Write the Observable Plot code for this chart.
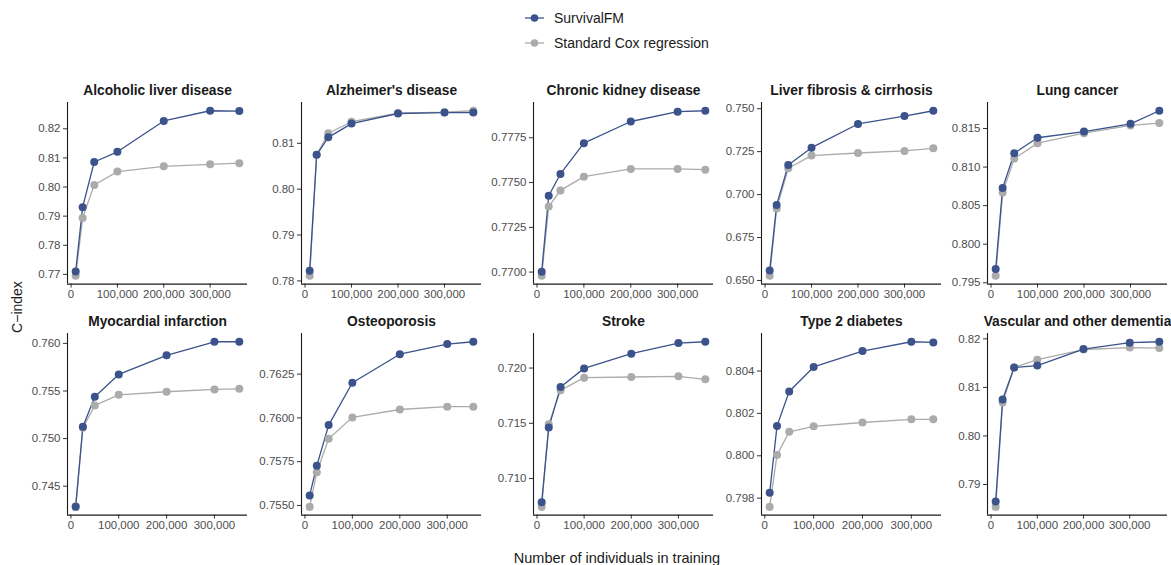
<!DOCTYPE html>
<html><head><meta charset="utf-8">
<script src="https://cdn.jsdelivr.net/npm/d3@7"></script>
<script src="https://cdn.jsdelivr.net/npm/@observablehq/plot@0.6"></script>
<style>
body{margin:0;overflow:hidden;background:#fff;font-family:"Liberation Sans",Arial,Helvetica,sans-serif;}
#root{position:relative;width:1171px;height:565px;overflow:hidden;}
.abs{position:absolute;}
.abs svg{overflow:visible;max-width:none !important;}
</style></head><body><div id="root"></div>
<script>
const diseases = ["Alcoholic liver disease","Alzheimer's disease","Chronic kidney disease","Liver fibrosis & cirrhosis","Lung cancer",
  "Myocardial infarction","Osteoporosis","Stroke","Type 2 diabetes","Vascular and other dementia"];
const trainSizes = [10000, 25000, 50000, 100000, 200000, 300000];
const fullSizes = [363000, 362000, 359000, 362000, 362000, 352000, 355000, 357000, 345000, 364000];
const seriesNames = ["SurvivalFM", "Standard Cox regression"];
const seriesColors = ["#3B528B", "#ABABAB"];

const survivalFM = [
  [0.7710, 0.7931, 0.8086, 0.8121, 0.8227, 0.8262, 0.8261],
  [0.7822, 0.8075, 0.8113, 0.8143, 0.8165, 0.8167, 0.8167],
  [0.77002, 0.77426, 0.77548, 0.77720, 0.77841, 0.77896, 0.77901],
  [0.6558, 0.6940, 0.7172, 0.7273, 0.7411, 0.7457, 0.7488],
  [0.7968, 0.8073, 0.8118, 0.8138, 0.8146, 0.8156, 0.8173],
  [0.74283, 0.75124, 0.75439, 0.75674, 0.75874, 0.76017, 0.76017],
  [0.75557, 0.75727, 0.75959, 0.76201, 0.76364, 0.76422, 0.76435],
  [0.70786, 0.71461, 0.71828, 0.71997, 0.72130, 0.72226, 0.72238],
  [0.79825, 0.80141, 0.80303, 0.80419, 0.80494, 0.80538, 0.80535],
  [0.7865, 0.8075, 0.8141, 0.8145, 0.8179, 0.8192, 0.8194]
];
const coxRegression = [
  [0.7695, 0.7894, 0.8007, 0.8053, 0.8071, 0.8078, 0.8082],
  [0.7811, 0.8075, 0.8122, 0.8147, 0.8166, 0.8168, 0.8171],
  [0.76979, 0.77366, 0.77456, 0.77533, 0.77576, 0.77576, 0.77572],
  [0.6527, 0.6919, 0.7153, 0.7227, 0.7242, 0.7254, 0.7269],
  [0.7959, 0.8067, 0.8111, 0.8131, 0.8144, 0.8154, 0.8157],
  [0.7429, 0.75113, 0.75348, 0.7546, 0.75492, 0.75516, 0.75523],
  [0.75492, 0.7569, 0.75881, 0.76003, 0.76048, 0.76064, 0.76064],
  [0.70744, 0.71491, 0.71798, 0.71913, 0.71919, 0.71925, 0.71898],
  [0.79759, 0.80004, 0.80113, 0.80139, 0.80157, 0.80172, 0.80172],
  [0.7854, 0.8069, 0.8141, 0.8157, 0.8178, 0.8182, 0.8181]
];
const yTickLabels = [
  ["0.77","0.78","0.79","0.80","0.81","0.82"],
  ["0.78","0.79","0.80","0.81"],
  ["0.7700","0.7725","0.7750","0.7775"],
  ["0.650","0.675","0.700","0.725","0.750"],
  ["0.795","0.800","0.805","0.810","0.815"],
  ["0.745","0.750","0.755","0.760"],
  ["0.7550","0.7575","0.7600","0.7625"],
  ["0.710","0.715","0.720"],
  ["0.798","0.800","0.802","0.804"],
  ["0.79","0.80","0.81","0.82"]
];
const xTicks = [0, 100000, 200000, 300000];

// layout
const colLeft = [66.7, 300.5, 533.3, 760.5, 987.2];
const rowTop = [101.7, 333];
const plotW = 180, plotH = 181.6;
const ML = 70, MR = 20, MT = 30, MB = 30;
const root = document.getElementById("root");

function expand(lo, hi) { const d = (hi - lo) * 0.05; return [lo - d, hi + d]; }

diseases.forEach((name, i) => {
  const row = Math.floor(i / 5), col = i % 5;
  const xs = [...trainSizes, fullSizes[i]];
  const fm = xs.map((x, j) => ({x, y: survivalFM[i][j], series: seriesNames[0]}));
  const cox = xs.map((x, j) => ({x, y: coxRegression[i][j], series: seriesNames[1]}));
  const xd = expand(d3.min(xs), d3.max(xs));
  const allY = [...survivalFM[i], ...coxRegression[i]];
  const yd = expand(d3.min(allY), d3.max(allY));
  const labels = yTickLabels[i];
  const yt = labels.map(Number);
  const chart = Plot.plot({
    width: ML + plotW + MR, height: MT + plotH + MB,
    marginLeft: ML, marginRight: MR, marginTop: MT, marginBottom: MB,
    x: {domain: xd},
    y: {domain: yd},
    style: {fontFamily: '"Liberation Sans", Arial, sans-serif', fontSize: "11.5px", color: "#4d4d4d", background: "transparent", overflow: "visible", maxWidth: "none"},
    marks: [
      Plot.axisX({ticks: xTicks, tickFormat: d3.format(","), tickSize: 4, tickPadding: 2, label: null, stroke: "#333", fill: "#4d4d4d", fontSize: 11.5}),
      Plot.axisY({ticks: yt, tickFormat: (d) => labels[yt.indexOf(d)], tickSize: 4, tickPadding: 3, label: null, stroke: "#333", fill: "#4d4d4d", fontSize: 11.5}),
      Plot.ruleX([xd[0]], {stroke: "#1a1a1a", strokeWidth: 1.1}),
      Plot.ruleY([yd[0]], {stroke: "#1a1a1a", strokeWidth: 1.1}),
      Plot.line(cox, {x: "x", y: "y", stroke: seriesColors[1], strokeWidth: 1.3}),
      Plot.line(fm, {x: "x", y: "y", stroke: seriesColors[0], strokeWidth: 1.3}),
      Plot.dot(cox, {x: "x", y: "y", r: 4, fill: seriesColors[1]}),
      Plot.dot(fm, {x: "x", y: "y", r: 4, fill: seriesColors[0]}),
      Plot.text([name], {frameAnchor: "top", lineAnchor: "middle", dy: -12, fontWeight: "bold", fontSize: 13.8, fill: "#1a1a1a"})
    ]
  });
  const wrap = document.createElement("div");
  wrap.className = "abs";
  wrap.style.left = (colLeft[col] - ML) + "px";
  wrap.style.top = (rowTop[row] - MT) + "px";
  wrap.style.width = (ML + plotW + MR) + "px";
  wrap.appendChild(chart);
  root.appendChild(wrap);
});

// legend
const leg = d3.select(root).append("div").attr("class", "abs").style("left", "515px").style("top", "4px")
  .append("svg").attr("width", 260).attr("height", 54);
seriesNames.forEach((s, k) => {
  const g = leg.append("g").attr("transform", `translate(0, ${14 + k * 25})`);
  g.append("line").attr("x1", 10).attr("x2", 29).attr("stroke", seriesColors[k]).attr("stroke-width", 1.3);
  g.append("circle").attr("cx", 19.5).attr("r", 3.8).attr("fill", seriesColors[k]);
  g.append("text").attr("x", 39).attr("dy", "0.35em").attr("font-size", 14).attr("fill", "#1a1a1a")
    .attr("font-family", '"Liberation Sans", Arial, sans-serif').text(s);
});

// axis titles
const xl = document.createElement("div");
xl.className = "abs";
xl.style.cssText += "left:0;width:1234px;text-align:center;top:550px;font-size:14.5px;color:#1a1a1a;";
xl.textContent = "Number of individuals in training";
root.appendChild(xl);
const yl = document.createElement("div");
yl.className = "abs";
yl.style.cssText += "left:17px;top:307px;font-size:14px;color:#1a1a1a;white-space:nowrap;transform:translate(-50%,-50%) rotate(-90deg);";
yl.textContent = "C\u2212index";
root.appendChild(yl);
</script></body></html>
